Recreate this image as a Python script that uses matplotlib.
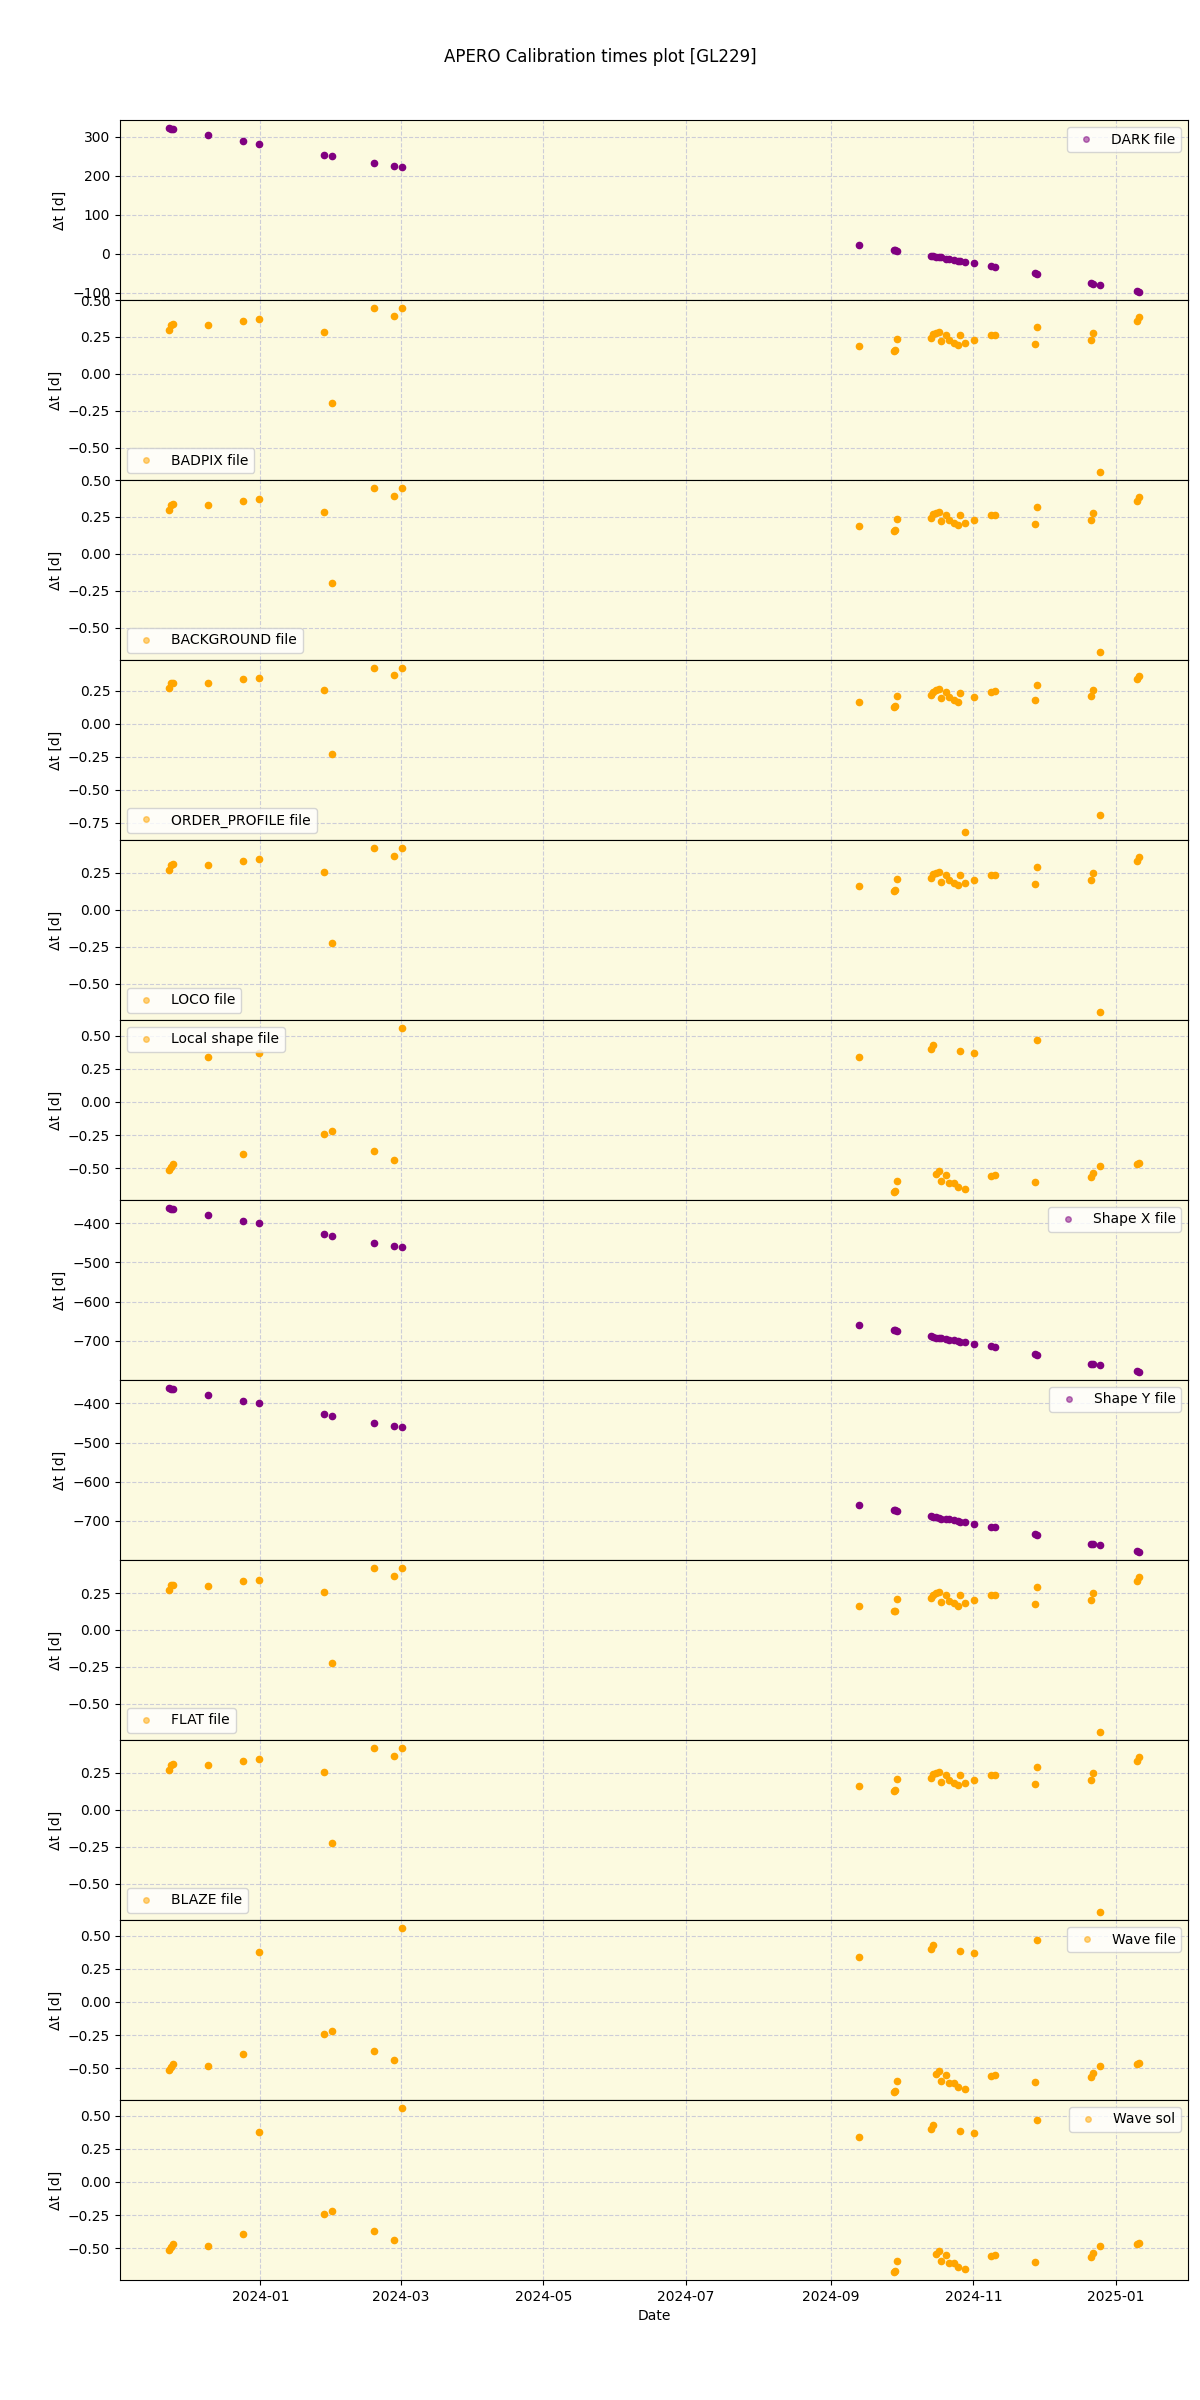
import pandas as pd
import matplotlib.pyplot as plt
from matplotlib.lines import Line2D

# observation dates of the science frames
obs_dates = [
    "2023-11-22 17:00", "2023-11-23 19:00", "2023-11-24 10:00", "2023-12-09 10:00",
    "2023-12-24 10:00", "2023-12-31 10:00", "2024-01-28 07:00", "2024-01-31 12:00",
    "2024-02-18 10:00", "2024-02-27 05:00", "2024-03-01 10:00", "2024-09-13 05:00",
    "2024-09-27 21:00", "2024-09-28 12:00", "2024-09-29 02:00", "2024-10-13 19:00",
    "2024-10-14 14:00", "2024-10-16 02:00", "2024-10-17 07:00", "2024-10-18 05:00",
    "2024-10-20 05:00", "2024-10-21 10:00", "2024-10-23 12:00", "2024-10-25 12:00",
    "2024-10-26 10:00", "2024-10-28 10:00", "2024-11-01 07:00", "2024-11-08 07:00",
    "2024-11-10 02:00", "2024-11-27 10:00", "2024-11-28 07:00", "2024-12-21 05:00",
    "2024-12-22 07:00", "2024-12-25 07:00", "2025-01-10 02:00", "2025-01-11 00:00",
]

dark_dt = [322, 320, 319, 304, 288, 282, 254, 250, 232, 225, 222,
           23, 10, 9, 8, -5, -6, -8, -9, -9, -12, -13, -15, -17, -18, -20,
           -24, -31, -33, -50, -52, -75, -76, -79, -94, -97]

badpix_dt = [0.298, 0.332, 0.339, 0.330, 0.359, 0.370, 0.282, -0.200, 0.445, 0.393, 0.445,
             0.191, 0.155, 0.164, 0.236, 0.241, 0.270, 0.277, 0.286, 0.220, 0.264, 0.227,
             0.207, 0.193, 0.264, 0.207, 0.230, 0.264, 0.266, 0.200, 0.318, 0.227, 0.277,
             -0.664, 0.359, 0.386]

background_dt = [0.298, 0.332, 0.339, 0.330, 0.359, 0.370, 0.282, -0.200, 0.445, 0.393, 0.445,
                 0.191, 0.155, 0.164, 0.236, 0.241, 0.270, 0.277, 0.286, 0.220, 0.264, 0.227,
                 0.207, 0.193, 0.264, 0.207, 0.230, 0.264, 0.266, 0.200, 0.318, 0.227, 0.277,
                 -0.664, 0.359, 0.386]

order_profile_dt = [0.274, 0.310, 0.312, 0.307, 0.338, 0.345, 0.256, -0.226, 0.421, 0.371, 0.421,
                    0.165, 0.127, 0.132, 0.211, 0.218, 0.244, 0.254, 0.264, 0.198, 0.241, 0.203,
                    0.183, 0.165, 0.234, -0.817, 0.206, 0.241, 0.246, 0.178, 0.294, 0.208, 0.256,
                    -0.690, 0.340, 0.363]

loco_dt = [0.270, 0.305, 0.309, 0.302, 0.332, 0.343, 0.255, -0.227, 0.418, 0.366, 0.418,
           0.164, 0.127, 0.132, 0.209, 0.214, 0.241, 0.248, 0.257, 0.191, 0.236, 0.200,
           0.180, 0.166, 0.236, 0.180, 0.202, 0.236, 0.239, 0.175, 0.291, 0.202, 0.250,
           -0.691, 0.332, 0.359]

local_shape_dt = [-0.515, -0.487, -0.470, 0.336, -0.391, 0.371, -0.240, -0.222, -0.366, -0.434, 0.556,
                  0.336, -0.677, -0.669, -0.598, 0.399, 0.427, -0.540, -0.523, -0.593, -0.548, -0.609,
                  -0.609, -0.639, 0.384, -0.657, 0.369, -0.556, -0.553, -0.603, 0.470, -0.566, -0.535,
                  -0.482, -0.465, -0.457]

shape_x_dt = [-362, -364, -365, -380, -395, -401, -429, -433, -451, -458, -461,
              -659, -672, -673, -675, -688, -690, -692, -692, -693, -695, -697,
              -698, -700, -702, -703, -708, -714, -715, -733, -736, -758, -758,
              -761, -776, -779]

shape_y_dt = [-361, -363, -364, -379, -394, -400, -428, -432, -450, -458, -461,
              -660, -672, -673, -675, -688, -689, -691, -692, -694, -695, -696,
              -698, -701, -702, -702, -708, -715, -715, -734, -737, -759, -759,
              -762, -777, -779]

flat_dt = [0.270, 0.305, 0.309, 0.302, 0.332, 0.343, 0.255, -0.227, 0.420, 0.366, 0.420,
           0.164, 0.127, 0.132, 0.209, 0.214, 0.241, 0.248, 0.257, 0.191, 0.236, 0.200,
           0.180, 0.166, 0.236, 0.180, 0.202, 0.236, 0.239, 0.175, 0.291, 0.202, 0.250,
           -0.692, 0.332, 0.359]

blaze_dt = [0.270, 0.305, 0.309, 0.302, 0.332, 0.343, 0.255, -0.227, 0.418, 0.366, 0.418,
            0.164, 0.127, 0.132, 0.209, 0.214, 0.241, 0.248, 0.257, 0.191, 0.236, 0.200,
            0.180, 0.166, 0.236, 0.180, 0.202, 0.236, 0.239, 0.175, 0.291, 0.202, 0.250,
            -0.691, 0.332, 0.359]

wave_file_dt = [-0.515, -0.487, -0.470, -0.482, -0.391, 0.374, -0.240, -0.222, -0.366, -0.434, 0.556,
                0.336, -0.677, -0.669, -0.598, 0.399, 0.427, -0.540, -0.523, -0.593, -0.548, -0.609,
                -0.609, -0.639, 0.384, -0.657, 0.369, -0.556, -0.553, -0.603, 0.470, -0.566, -0.535,
                -0.482, -0.465, -0.457]

wave_sol_dt = [-0.515, -0.487, -0.470, -0.482, -0.391, 0.374, -0.240, -0.222, -0.366, -0.434, 0.556,
               0.336, -0.677, -0.669, -0.598, 0.399, 0.427, -0.540, -0.523, -0.593, -0.548, -0.609,
               -0.609, -0.639, 0.384, -0.657, 0.369, -0.556, -0.553, -0.603, 0.470, -0.566, -0.535,
               -0.482, -0.465, -0.457]

panel_labels = ["DARK file", "BADPIX file", "BACKGROUND file", "ORDER_PROFILE file", "LOCO file",
                "Local shape file", "Shape X file", "Shape Y file", "FLAT file", "BLAZE file",
                "Wave file", "Wave sol"]
panel_values = [dark_dt, badpix_dt, background_dt, order_profile_dt, loco_dt, local_shape_dt,
                shape_x_dt, shape_y_dt, flat_dt, blaze_dt, wave_file_dt, wave_sol_dt]
panel_colors = ["purple", "orange", "orange", "orange", "orange", "orange",
                "purple", "purple", "orange", "orange", "orange", "orange"]
legend_locs = ["upper right", "lower left", "lower left", "lower left", "lower left", "upper left",
               "upper right", "upper right", "lower left", "lower left", "upper right", "upper right"]

dates = pd.to_datetime(obs_dates)

fig, axes = plt.subplots(12, 1, figsize=(12, 24), sharex=True)
fig.subplots_adjust(left=0.1, right=0.99, top=0.95, bottom=0.05, hspace=0)
fig.suptitle("APERO Calibration times plot [GL229]")

for ax, label, values, color, loc in zip(axes, panel_labels, panel_values, panel_colors, legend_locs):
    ax.set_facecolor("#fcfae0")
    ax.plot(dates, values, "o", color=color, ms=4.5, zorder=3)
    ax.grid(True, color="#cdcdd8", linestyle="--", linewidth=0.8)
    ax.set_axisbelow(True)
    ax.set_ylabel("Δt [d]")
    handle = Line2D([], [], marker="o", linestyle="", color=color, alpha=0.5, ms=4)
    ax.legend([handle], [label], loc=loc)

axes[-1].set_xlabel("Date")

fig.savefig("out.png", dpi=100)
